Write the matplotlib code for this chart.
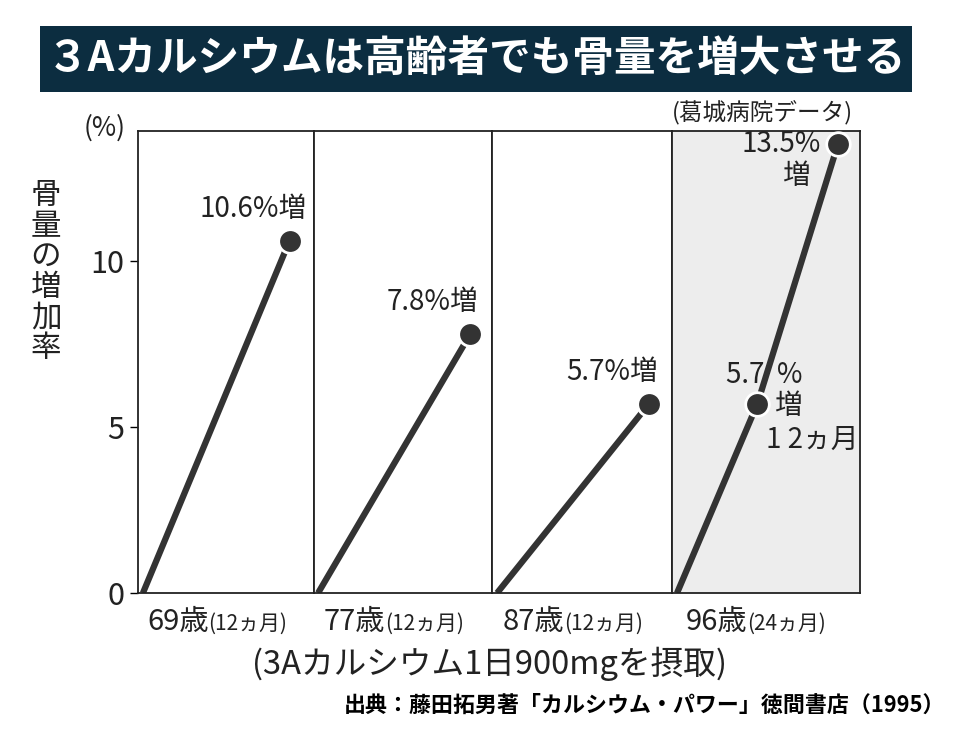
import matplotlib
matplotlib.use("Agg")
import matplotlib.pyplot as plt
from matplotlib.patches import Rectangle

plt.rcParams['font.family'] = ['Noto Sans CJK JP', 'DejaVu Sans']

# data
ages = ['69歳', '77歳', '87歳', '96歳']
periods = ['(12ヵ月)', '(12ヵ月)', '(12ヵ月)', '(24ヵ月)']
months = [[0, 12], [0, 12], [0, 12], [0, 12, 24]]
increase = [[0, 10.6], [0, 7.8], [0, 5.7], [0, 5.7, 13.5]]
yticks = [0, 5, 10]

title = '３Aカルシウムは高齢者でも骨量を増大させる'
ylabel = '骨量の増加率'
xlabel = '(3Aカルシウム1日900mgを摂取)'
source = '出典：藤田拓男著「カルシウム・パワー」徳間書店（1995）'
note = '(葛城病院データ)'

line_col = '#333333'
txt_col = '#222222'

fig = plt.figure(figsize=(9.54, 7.37), dpi=100)
gs = fig.add_gridspec(1, 4, left=0.1447, right=0.9015, top=0.8223, bottom=0.1954,
                      wspace=0, width_ratios=[176, 178, 180, 188])
axes = [fig.add_subplot(gs[0, i]) for i in range(4)]

xlims = [(-0.4, 14.0), (-0.32, 13.7), (-0.4, 13.8), (-0.75, 27.3)]

for i, ax in enumerate(axes):
    ax.set_xlim(*xlims[i])
    ax.set_ylim(0, 13.9)
    ax.set_xticks([])
    for s in ax.spines.values():
        s.set_color(txt_col)
        s.set_linewidth(1.3)
    if i == 0:
        ax.set_yticks(yticks)
        ax.set_yticklabels([str(v) for v in yticks], fontsize=22, color=txt_col)
        ax.tick_params(axis='y', direction='out', length=6, width=1, pad=4)
    else:
        ax.set_yticks([])
    if i == 3:
        ax.set_facecolor('#ededed')
    x = months[i]
    y = increase[i]
    ax.plot(x, y, color=line_col, lw=4.5, solid_capstyle='butt', zorder=2)
    ax.plot(x[1:], y[1:], 'o', color=line_col, ms=17, mec='white', mew=2,
            zorder=3, clip_on=False)
    # x labels under each panel
    ax.text(0.40, -0.03, ages[i], transform=ax.transAxes, ha='right', va='top',
            fontsize=21, color=txt_col)
    ax.text(0.40, -0.043, periods[i], transform=ax.transAxes, ha='left', va='top',
            fontsize=15, color=txt_col)

# value labels
lab = dict(textcoords='offset points', fontsize=20, color=txt_col, annotation_clip=False)
axes[0].annotate('10.6%増', (months[0][1], increase[0][1]), xytext=(12, 12),
                 ha='right', va='bottom', **lab)
axes[1].annotate('7.8%増', (months[1][1], increase[1][1]), xytext=(6, 12),
                 ha='right', va='bottom', **lab)
axes[2].annotate('5.7%増', (months[2][1], increase[2][1]), xytext=(6, 12),
                 ha='right', va='bottom', **lab)
a3 = axes[3]
a3.annotate('13.5%', (months[3][2], increase[3][2]), xytext=(-12, 0),
            ha='right', va='center', **lab)
a3.annotate('増', (months[3][2], increase[3][2]), xytext=(-30, -12),
            ha='center', va='top', **lab)
a3.annotate('5.7  %', (months[3][1], increase[3][1]), xytext=(5, 10),
            ha='center', va='bottom', **lab)
a3.annotate('増', (months[3][1], increase[3][1]), xytext=(12, -2),
            ha='left', va='center', **lab)
a3.annotate('1 2ヵ月', (months[3][1], increase[3][1]), xytext=(6, -15),
            ha='left', va='top', **lab)

# axis annotations
fig.text(105 / 954, 1 - 128 / 737, '(%)', ha='center', va='center', fontsize=19, color=txt_col)
fig.text(46 / 954, 1 - 272 / 737, '\n'.join(ylabel), ha='center', va='center',
         fontsize=22, color=txt_col, linespacing=0.98)
fig.text(762 / 954, 1 - 113 / 737, note, ha='center', va='center', fontsize=17, color=txt_col)
fig.text(490 / 954, 1 - 664 / 737, xlabel, ha='center', va='center', fontsize=23.5, color=txt_col)
fig.text(945 / 954, 1 - 705 / 737, source, ha='right', va='center', fontsize=15.8,
         fontweight='bold', color='black')

# title bar
fig.patches.append(Rectangle((40 / 954, 1 - 92 / 737), 872 / 954, 66 / 737,
                             transform=fig.transFigure, facecolor='#0c2d40', edgecolor='none'))
fig.text(476 / 954, 1 - 59 / 737, title, ha='center', va='center', fontsize=30,
         fontweight='bold', color='white')

fig.savefig('out.png', dpi=100)
